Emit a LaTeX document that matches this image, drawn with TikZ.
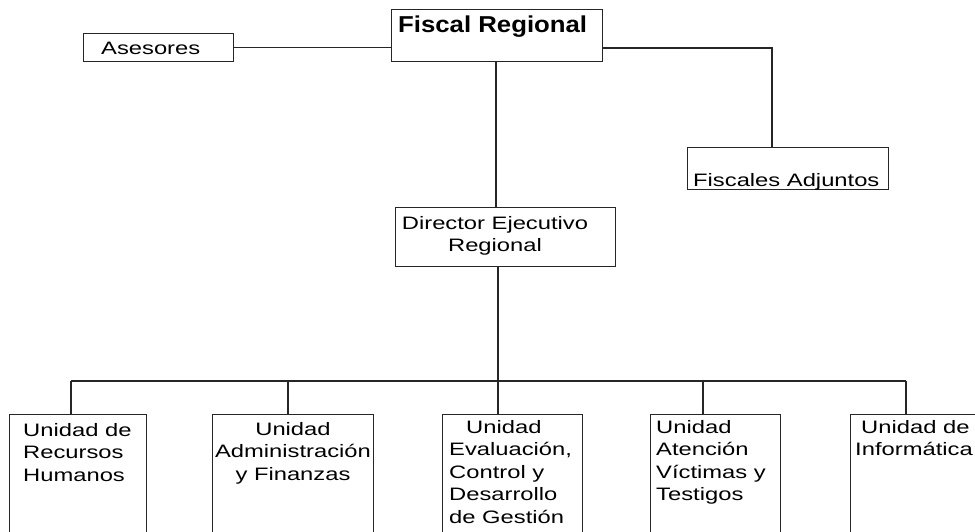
\documentclass[tikz,border=0pt]{standalone}
\usepackage{fontspec}
\setmainfont{Liberation Sans}[FakeStretch=1.32]
\newfontfamily\titlefont{Liberation Sans}[FakeStretch=1.12]
\begin{document}
\begin{tikzpicture}[x=1pt,y=-1pt,
  box/.style={draw=black!85, line width=1.2pt, rectangle, inner sep=0pt, anchor=north west},
  wire/.style={draw=black!85, line width=1.2pt},
  lbl/.style={inner sep=0pt, anchor=north west, font=\fontsize{18}{22.5}\selectfont, align=left},
  lblc/.style={inner sep=0pt, anchor=north, font=\fontsize{18}{22.5}\selectfont, align=center},
  title/.style={inner sep=0pt, anchor=north west, font=\titlefont\bfseries\fontsize{23}{27}\selectfont}]
\useasboundingbox (0,0) rectangle (975,531);
\clip (0,0) rectangle (975,531);

% upper level
\node[box, minimum width=211pt, minimum height=52pt] (fiscal) at (391,9) {};
\node[box, minimum width=150pt, minimum height=28pt] (ases) at (83,33) {};
\node[box, minimum width=201pt, minimum height=42pt] (adj) at (687,147) {};
\node[box, minimum width=220pt, minimum height=59pt] (dir) at (395,207) {};

% units
\node[box, minimum width=137pt, minimum height=140pt] (b1) at (9,414) {};
\node[box, minimum width=161pt, minimum height=140pt] (b2) at (212,414) {};
\node[box, minimum width=140pt, minimum height=140pt] (b3) at (442,414) {};
\node[box, minimum width=130pt, minimum height=140pt] (b4) at (650,414) {};
\node[box, minimum width=140pt, minimum height=140pt] (b5) at (850,414) {};

% labels
\node[title] (tfiscal) at (398,16) {Fiscal Regional};
\node[lbl] (tases) at (101,42) {Asesores};
\node[lbl] (tadj) at (693,173) {Fiscales Adjuntos};
\node[lblc] (tdir) at (495,216) {Director Ejecutivo\\Regional};
\node[lbl] (t1) at (23,423) {Unidad de\\Recursos\\Humanos};
\node[lblc] (t2) at (293,422) {Unidad\\Administración\\y Finanzas};
\node[lbl] (t3) at (449,420) {\hspace{17pt}Unidad\\Evaluación,\\Control y\\Desarrollo\\de Gestión};
\node[lbl] (t4) at (656,420) {Unidad\\Atención\\Víctimas y\\Testigos};
\node[lbl] (t5) at (855,420) {\hspace{6pt}Unidad de\\Informática};

% connectors
\coordinate (fr) at (772,48);
\coordinate (fd) at (496,48);
\draw[wire] (ases.east) -- (ases.east -| fiscal.west);
\draw[wire] (fiscal.east |- fr) -- (fr) -- (fr |- adj.north);
\draw[wire] (fd |- fiscal.south) -- (fd |- dir.north);

\coordinate (j1) at (71,381);
\coordinate (j2) at (288,381);
\coordinate (j3) at (498,381);
\coordinate (j4) at (703,381);
\coordinate (j5) at (906,381);
\draw[wire] (j3 |- dir.south) -- (j3);
\draw[wire] (j1) -- (j5);
\foreach \i in {1,...,5}
  \draw[wire] (j\i) -- (j\i |- b\i.north);
\end{tikzpicture}
\end{document}
